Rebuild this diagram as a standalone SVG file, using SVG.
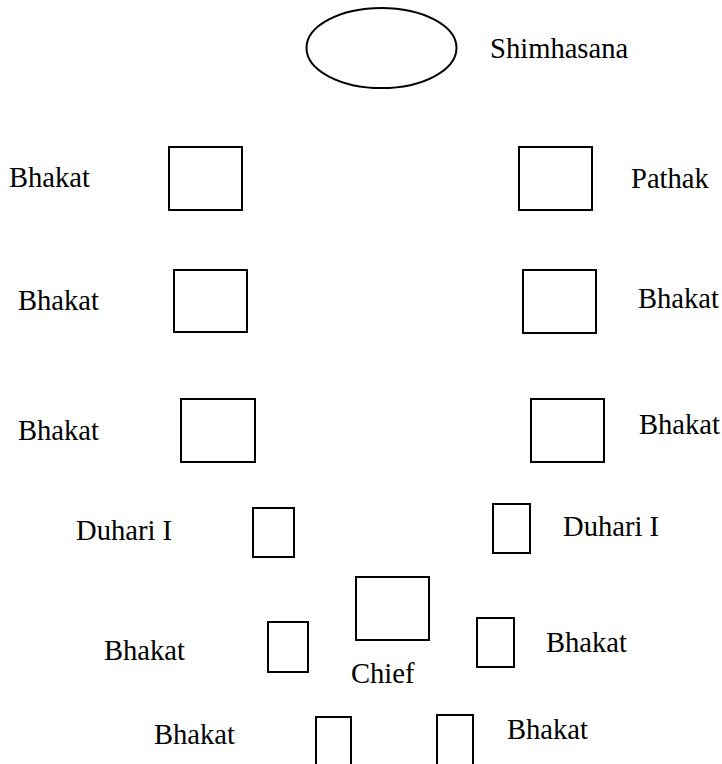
<svg xmlns="http://www.w3.org/2000/svg" width="722" height="764" viewBox="0 0 722 764">
  <style>
    .seat { fill: #ffffff; stroke: #000000; stroke-width: 2; }
    .lbl { font-family: 'Liberation Serif', Tinos, 'Times New Roman', Times, 'DejaVu Serif', serif; font-size: 28.6px; fill: #000000; }
  </style>
  <rect width="722" height="764" fill="#ffffff"/>

  <!-- Throne -->
  <g id="shimhasana">
    <ellipse class="seat" cx="381.5" cy="48" rx="75" ry="40"/>
    <text class="lbl" x="490" y="58">Shimhasana</text>
  </g>

  <!-- Row 1 -->
  <g id="bhakat-l1">
    <rect class="seat" x="169" y="147" width="73" height="63"/>
    <text class="lbl" x="9" y="187">Bhakat</text>
  </g>
  <g id="pathak">
    <rect class="seat" x="519" y="147" width="73" height="63"/>
    <text class="lbl" x="631" y="188">Pathak</text>
  </g>

  <!-- Row 2 -->
  <g id="bhakat-l2">
    <rect class="seat" x="174" y="270" width="73" height="62"/>
    <text class="lbl" x="18" y="310">Bhakat</text>
  </g>
  <g id="bhakat-r2">
    <rect class="seat" x="523" y="270" width="73" height="63"/>
    <text class="lbl" x="638" y="308">Bhakat</text>
  </g>

  <!-- Row 3 -->
  <g id="bhakat-l3">
    <rect class="seat" x="181" y="399" width="74" height="63"/>
    <text class="lbl" x="18" y="440">Bhakat</text>
  </g>
  <g id="bhakat-r3">
    <rect class="seat" x="531" y="399" width="73" height="63"/>
    <text class="lbl" x="639" y="434">Bhakat</text>
  </g>

  <!-- Row 4 -->
  <g id="duhari-l">
    <rect class="seat" x="253" y="508" width="41" height="49"/>
    <text class="lbl" x="76" y="540">Duhari I</text>
  </g>
  <g id="duhari-r">
    <rect class="seat" x="493" y="504" width="37" height="49"/>
    <text class="lbl" x="563" y="536">Duhari I</text>
  </g>

  <!-- Row 5 -->
  <g id="chief">
    <rect class="seat" x="356" y="577" width="73" height="63"/>
    <text class="lbl" x="351" y="683">Chief</text>
  </g>
  <g id="bhakat-l5">
    <rect class="seat" x="268" y="622" width="40" height="50"/>
    <text class="lbl" x="104" y="660">Bhakat</text>
  </g>
  <g id="bhakat-r5">
    <rect class="seat" x="477" y="618" width="37" height="49"/>
    <text class="lbl" x="546" y="652">Bhakat</text>
  </g>

  <!-- Row 6 (runs off the lower edge) -->
  <g id="bhakat-l6">
    <rect class="seat" x="316" y="717" width="35" height="60"/>
    <text class="lbl" x="154" y="744">Bhakat</text>
  </g>
  <g id="bhakat-r6">
    <rect class="seat" x="437" y="715" width="36" height="60"/>
    <text class="lbl" x="507" y="739">Bhakat</text>
  </g>

  <g id="connectors"/>
</svg>
